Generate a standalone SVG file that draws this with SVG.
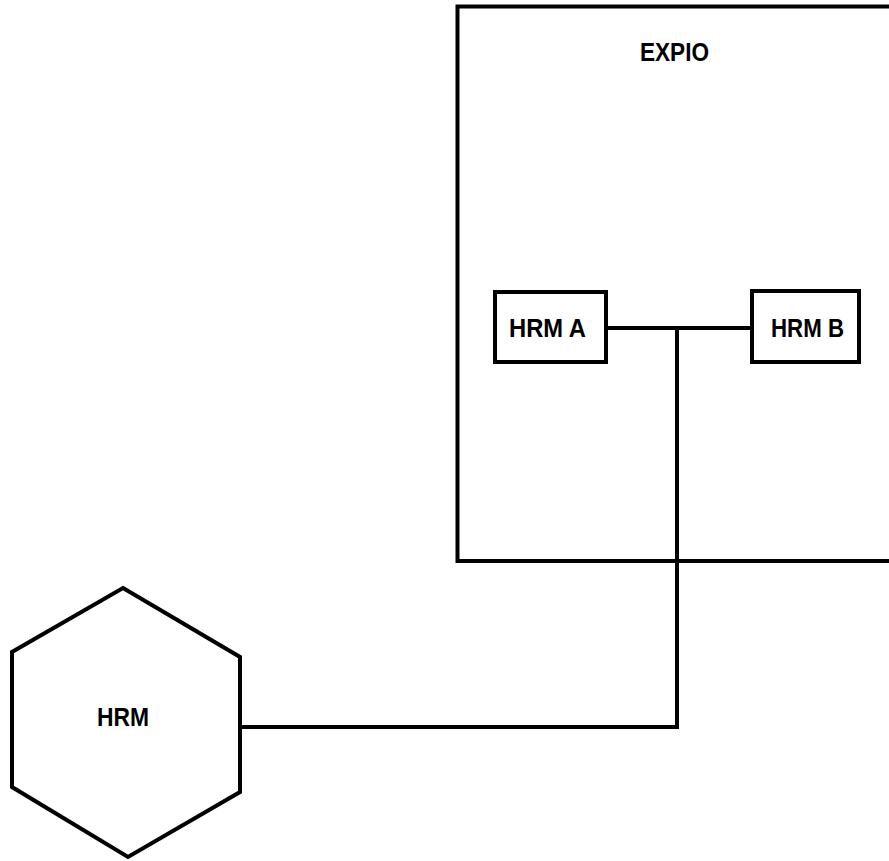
<svg xmlns="http://www.w3.org/2000/svg" width="889" height="861" viewBox="0 0 889 861">
<style>
.box{fill:none;stroke:#000;stroke-width:4}
.wire{fill:none;stroke:#000;stroke-width:4;stroke-linecap:square}
.lbl{font-family:"Liberation Sans Narrow","Liberation Sans",Arial,sans-serif;font-weight:bold;fill:#000;font-size:26px}
</style>
<rect width="889" height="861" fill="#fff"/>
<g id="expio">
<rect class="box" x="457.5" y="6.5" width="450" height="554.5"/>
<text class="lbl" x="640" y="61" textLength="69" lengthAdjust="spacingAndGlyphs">EXPIO</text>
</g>
<g id="hrm-a">
<rect class="box" x="495" y="292" width="111" height="70"/>
<text class="lbl" x="509" y="337" textLength="77" lengthAdjust="spacingAndGlyphs">HRM A</text>
</g>
<g id="hrm-b">
<rect class="box" x="752" y="291" width="107" height="71"/>
<text class="lbl" x="771" y="337" textLength="73" lengthAdjust="spacingAndGlyphs">HRM B</text>
</g>
<g id="hrm">
<polygon class="box" points="123,588 240,657 240,792 128,857 12,787 12,652"/>
<text class="lbl" x="97" y="726" font-size="23" textLength="52" lengthAdjust="spacingAndGlyphs">HRM</text>
</g>
<g id="connectors">
<path class="wire" d="M606,328 H752"/>
<path class="wire" d="M677,328 V727 H240"/>
</g>
</svg>
